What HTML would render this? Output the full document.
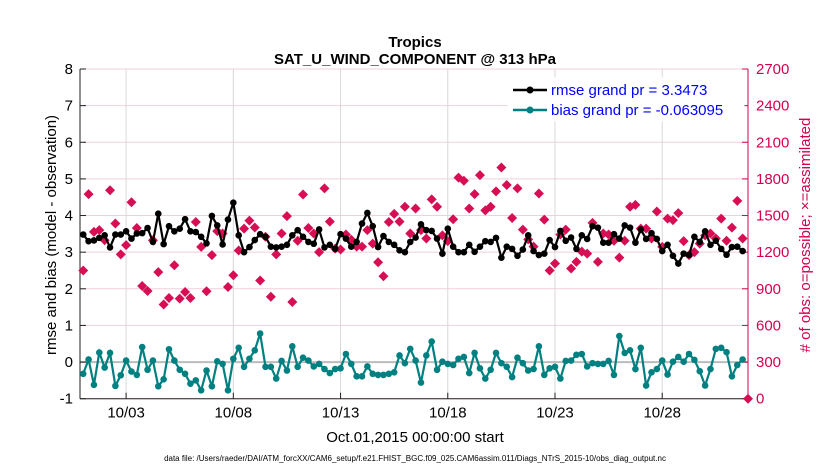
<!DOCTYPE html>
<html><head><meta charset="utf-8"><style>
body{margin:0;background:#fff;font-family:"Liberation Sans",sans-serif}
svg text{font-family:"Liberation Sans",sans-serif}
</style></head><body>
<svg id="chart" width="830" height="470" xmlns="http://www.w3.org/2000/svg">
<rect width="830" height="470" fill="#fff"/>
<text x="415" y="47" text-anchor="middle" font-size="15" font-weight="bold">Tropics</text>
<text x="415" y="64" text-anchor="middle" font-size="15" font-weight="bold">SAT_U_WIND_COMPONENT @ 313 hPa</text>
<g id="grid"></g><g id="axes"></g><g id="series"></g>
<text x="415" y="442" text-anchor="middle" font-size="15">Oct.01,2015 00:00:00 start</text>
<text x="415" y="461" text-anchor="middle" font-size="8">data file: /Users/raeder/DAI/ATM_forcXX/CAM6_setup/f.e21.FHIST_BGC.f09_025.CAM6assim.011/Diags_NTrS_2015-10/obs_diag_output.nc</text>
<text transform="translate(56,235) rotate(-90)" text-anchor="middle" font-size="15">rmse and bias (model - observation)</text>
<text transform="translate(810,235) rotate(-90)" text-anchor="middle" font-size="15" fill="#d4004f"># of obs: o=possible; ×=assimilated</text>
<g>
<rect x="508" y="78" width="236" height="43" fill="#fff" stroke="#fff"/>
<line x1="513" y1="90" x2="547" y2="90" stroke="#000" stroke-width="2.5"/><circle cx="530" cy="90" r="3.5" fill="#000"/>
<text x="551" y="95" font-size="15" fill="#0000ff">rmse grand pr = 3.3473</text>
<line x1="513" y1="110" x2="547" y2="110" stroke="#008080" stroke-width="2.5"/><circle cx="530" cy="110" r="3.5" fill="#008080"/>
<text x="551" y="115" font-size="15" fill="#0000ff">bias grand pr = -0.063095</text>
</g>
</svg>
<script>
const rmse=[3.48,3.30,3.32,3.39,3.46,3.13,3.48,3.48,3.57,3.37,3.51,3.52,3.66,3.28,4.05,3.22,3.71,3.57,3.64,3.90,3.57,3.55,3.42,3.24,3.99,3.73,3.21,3.89,4.35,3.46,3.00,
3.14,3.33,3.49,3.42,3.15,3.13,3.15,3.20,3.46,3.60,3.42,3.28,3.23,3.62,3.13,3.20,3.09,3.49,3.37,3.15,3.28,3.78,4.07,3.71,3.14,3.44,3.28,3.20,3.05,3.00,3.28,
3.40,3.76,3.60,3.58,3.37,2.96,3.64,3.15,3.00,3.00,3.20,3.01,3.15,3.30,3.28,3.39,2.85,3.15,3.09,2.90,3.07,3.46,3.03,2.92,2.96,3.33,3.14,3.58,3.31,3.40,3.09,3.46,
3.36,3.71,3.67,3.26,3.26,3.49,3.37,3.73,3.67,3.26,3.62,3.36,3.52,3.36,3.03,3.20,2.90,2.69,2.96,2.92,3.42,3.28,3.57,3.20,3.31,3.09,2.93,3.14,3.15,3.03,null];
const bias=[-0.32,0.07,-0.62,0.26,-0.15,0.25,-0.65,-0.36,0.04,-0.26,-0.35,0.41,-0.21,0.04,-0.66,-0.47,0.35,0.04,-0.21,-0.32,-0.59,-0.50,-0.77,-0.23,-0.66,0.02,-0.05,-0.77,0.09,0.39,-0.13,
0.09,0.32,0.78,-0.13,-0.13,-0.45,0.03,-0.23,0.43,-0.13,0.12,0.04,-0.12,-0.05,-0.19,-0.30,-0.19,-0.17,0.22,-0.05,-0.39,-0.39,-0.12,-0.32,-0.35,-0.35,-0.32,-0.28,0.18,-0.03,0.36,
0.04,-0.56,0.18,0.56,-0.21,0.01,-0.05,-0.08,0.09,0.14,-0.30,0.25,-0.17,-0.45,-0.21,0.25,-0.03,-0.13,-0.41,0.12,-0.03,-0.23,-0.19,0.43,-0.35,-0.17,-0.13,-0.45,0.03,0.04,0.20,0.22,
-0.12,-0.03,-0.05,-0.05,0.03,-0.35,0.71,0.25,0.32,-0.19,0.39,-0.64,-0.28,-0.19,0.04,-0.34,0.01,0.14,0.01,0.22,0.06,-0.25,-0.64,-0.19,0.36,0.39,0.27,-0.39,-0.08,0.07,null];
const nobs=[1050,1675,1366,1380,1298,1707,1435,1182,1258,1609,1398,923,882,1298,1037,771,825,1093,820,874,825,1447,1243,880,1176,1372,1353,915,1011,1214,1393,
1458,1402,968,1326,835,1182,1353,1495,792,1293,1672,1398,1353,1200,1722,1450,1229,1222,1345,1302,1245,1245,1380,1270,1117,1003,1447,1514,1450,1572,1353,
1558,1380,1312,1632,1572,1338,1290,1470,1810,1785,1558,1675,1831,1542,1572,1698,1893,1750,1480,1722,1385,1305,1245,1680,1467,1050,1107,1345,1385,1066,1120,1204,
1188,1440,1120,1353,1345,1293,1155,1293,1572,1587,1393,1393,1312,1533,1243,1475,1462,1520,1290,1176,1200,1270,1338,1353,1312,1475,1293,1401,1620,1312,0];
const leftTicks=[-1,0,1,2,3,4,5,6,7,8];
const rightTicks=[0,300,600,900,1200,1500,1800,2100,2400,2700];
const dayTicks=[2,7,12,17,22,27];
const dayLabels=["10/03","10/08","10/13","10/18","10/23","10/28"];
const X0=80,X1=748,Y0=69,Y1=398.7,DMIN=-0.15,DMAX=31.0,STEP=0.25;
const xS=d=>X0+(d-DMIN)/(DMAX-DMIN)*(X1-X0);
const yL=v=>Y1-(v+1)/9*(Y1-Y0);
const yR=v=>Y1-v/2700*(Y1-Y0);
const NS="http://www.w3.org/2000/svg";
function mk(tag,attrs,parent){const e=document.createElementNS(NS,tag);for(const k in attrs)e.setAttribute(k,attrs[k]);parent.appendChild(e);return e;}
const grid=document.getElementById('grid'),axes=document.getElementById('axes'),ser=document.getElementById('series');
rightTicks.forEach(t=>{const l=mk('line',{x1:X0,x2:X1,y1:yR(t),y2:yR(t),stroke:'#f2cfdc','stroke-width':1},grid);

});
dayTicks.forEach((d,i)=>{const l=mk('line',{x1:xS(d),x2:xS(d),y1:Y0,y2:Y1,stroke:'#d8d8d8','stroke-width':1},grid);


mk('line',{x1:xS(d),x2:xS(d),y1:Y1,y2:Y1-6,stroke:'#222'},axes);
const t=mk('text',{x:xS(d),y:Y1+19,'text-anchor':'middle','font-size':15},axes);t.textContent=dayLabels[i];

});
const zl=mk('line',{x1:X0,x2:X1,y1:yL(0),y2:yL(0),stroke:'#bbb','stroke-width':2},grid);


leftTicks.forEach(t=>{mk('line',{x1:X0,x2:X0+6,y1:yL(t),y2:yL(t),stroke:'#222'},axes);
const tx=mk('text',{x:X0-7,y:yL(t)+5,'text-anchor':'end','font-size':15},axes);tx.textContent=t;

});
rightTicks.forEach(t=>{mk('line',{x1:X1,x2:X1-6,y1:yR(t),y2:yR(t),stroke:'#d4004f'},axes);
const tx=mk('text',{x:X1+8,y:yR(t)+5,'text-anchor':'start','font-size':15,fill:'#d4004f'},axes);tx.textContent=t;

});
mk('line',{x1:X0,x2:X0,y1:Y0,y2:Y1,stroke:'#222'},axes);
mk('line',{x1:X0,x2:X1,y1:Y1,y2:Y1,stroke:'#222'},axes);
mk('line',{x1:X1,x2:X1,y1:Y0,y2:Y1,stroke:'#d4004f'},axes);
nobs.forEach((n,i)=>{const x=xS(i*STEP),y=yR(n);
const p=mk('path',{d:`M${x-5},${y}L${x},${y-5}L${x+5},${y}L${x},${y+5}Z`,fill:'#d80e55'},ser);

});
function line(arr,col,name){let d='';arr.forEach((v,i)=>{if(v==null)return;d+=(d?'L':'M')+xS(i*STEP)+','+yL(v);});
const pl=mk('path',{d:d,fill:'none',stroke:col,'stroke-width':2.2},ser);


arr.forEach((v,i)=>{if(v==null)return;const c=mk('circle',{cx:xS(i*STEP),cy:yL(v),r:3.3,fill:col},ser);

});}
line(rmse,'#000','rmse');
line(bias,'#008080','bias');
</script>
</body></html>
